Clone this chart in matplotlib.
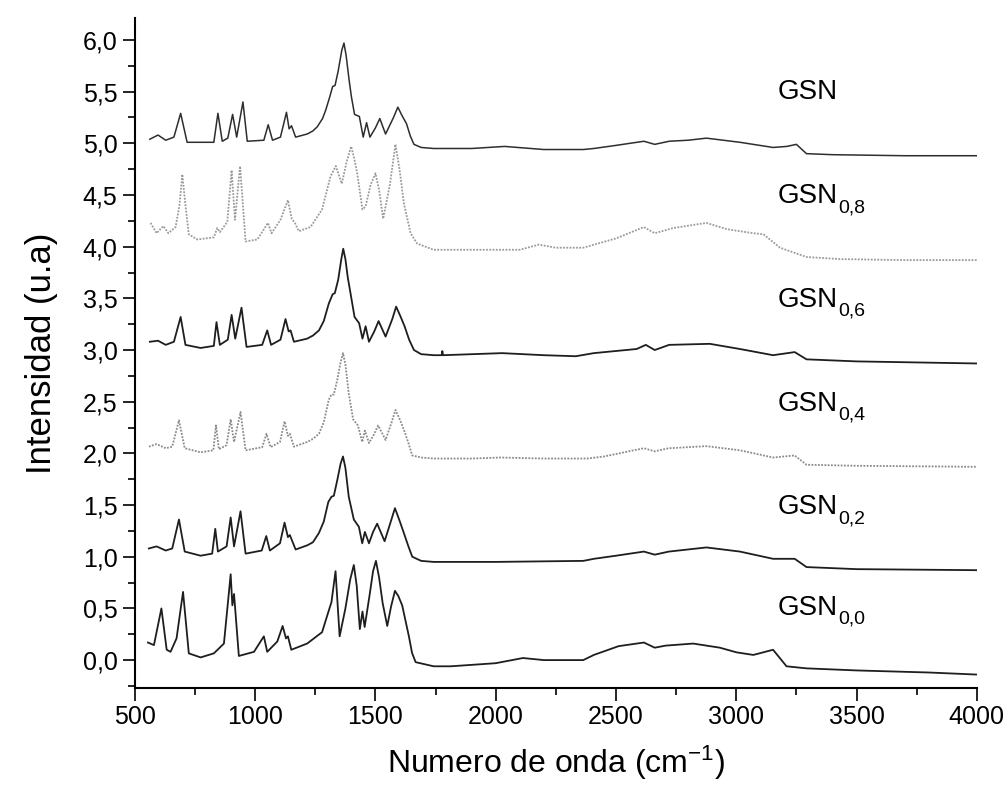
import matplotlib
matplotlib.use("Agg")
import matplotlib.pyplot as plt
from matplotlib.ticker import MultipleLocator, FuncFormatter

plt.rcParams["font.family"] = ["Liberation Sans", "DejaVu Sans"]
plt.rcParams["mathtext.default"] = "regular"

# spectra (wavenumber cm-1, stacked intensity)
gsn_x = [562, 596, 628, 662, 690, 717, 828, 845, 863, 886, 906, 923, 949, 967,
         1036, 1054, 1072, 1105, 1130, 1141, 1151, 1168, 1216, 1240, 1258, 1280,
         1293, 1310, 1322, 1332, 1345, 1360, 1369, 1378, 1390, 1400, 1413, 1433,
         1449, 1463, 1477, 1500, 1518, 1542, 1575, 1593, 1610, 1629, 1645, 1660,
         1690, 1742, 1900, 2037, 2200, 2364, 2408, 2500, 2616, 2661, 2721, 2800,
         2876, 3015, 3153, 3210, 3250, 3292, 3400, 3700, 4000]
gsn_y = [5.04, 5.08, 5.03, 5.06, 5.29, 5.01, 5.01, 5.29, 5.02, 5.05, 5.28, 5.06,
         5.40, 5.02, 5.03, 5.18, 5.03, 5.06, 5.30, 5.14, 5.17, 5.06, 5.09, 5.12,
         5.16, 5.24, 5.32, 5.45, 5.55, 5.56, 5.70, 5.90, 5.97, 5.85, 5.62, 5.45,
         5.28, 5.26, 5.06, 5.20, 5.06, 5.15, 5.24, 5.09, 5.25, 5.35, 5.27, 5.19,
         5.07, 4.99, 4.96, 4.95, 4.95, 4.97, 4.94, 4.94, 4.95, 4.98, 5.02, 4.99,
         5.02, 5.03, 5.05, 5.01, 4.96, 4.97, 4.99, 4.90, 4.89, 4.88, 4.88]

gsn08_x = [565, 590, 618, 639, 669, 685, 697, 710, 724, 759, 828, 842, 853, 884,
           902, 916, 937, 960, 1009, 1053, 1068, 1105, 1136, 1152, 1165, 1181,
           1230, 1278, 1313, 1335, 1360, 1380, 1399, 1412, 1424, 1446, 1459, 1480,
           1500, 1515, 1532, 1560, 1583, 1600, 1618, 1646, 1673, 1742, 1900, 2100,
           2179, 2250, 2364, 2500, 2616, 2661, 2737, 2876, 2960, 3071, 3113, 3182,
           3292, 3431, 3700, 4000]
gsn08_y = [4.23, 4.13, 4.20, 4.13, 4.19, 4.40, 4.70, 4.40, 4.12, 4.07, 4.09, 4.18,
           4.14, 4.24, 4.74, 4.26, 4.78, 4.05, 4.07, 4.23, 4.13, 4.26, 4.45, 4.27,
           4.23, 4.15, 4.19, 4.36, 4.68, 4.78, 4.61, 4.82, 4.97, 4.85, 4.71, 4.36,
           4.39, 4.60, 4.71, 4.55, 4.27, 4.60, 4.99, 4.75, 4.42, 4.13, 4.03, 3.97,
           3.97, 3.97, 4.02, 3.99, 3.99, 4.08, 4.19, 4.13, 4.18, 4.23, 4.17, 4.13,
           4.12, 3.99, 3.90, 3.88, 3.87, 3.87]

gsn06_x = [562, 596, 628, 662, 690, 710, 773, 828, 839, 853, 886, 902, 917, 943,
           964, 1029, 1050, 1066, 1105, 1126, 1139, 1147, 1161, 1216, 1240, 1265,
           1285, 1306, 1322, 1331, 1345, 1358, 1366, 1375, 1385, 1394, 1413, 1432,
           1446, 1459, 1473, 1495, 1513, 1542, 1570, 1586, 1605, 1621, 1640, 1660,
           1690, 1742, 1775, 1778, 1781, 2026, 2200, 2333, 2408, 2586, 2624, 2661,
           2721, 2890, 3015, 3153, 3243, 3292, 3500, 4000]
gsn06_y = [3.08, 3.09, 3.05, 3.08, 3.32, 3.05, 3.02, 3.04, 3.27, 3.05, 3.10, 3.34,
           3.11, 3.41, 3.03, 3.05, 3.19, 3.05, 3.10, 3.30, 3.18, 3.19, 3.08, 3.11,
           3.14, 3.19, 3.28, 3.45, 3.54, 3.55, 3.68, 3.88, 3.98, 3.88, 3.70, 3.58,
           3.32, 3.26, 3.11, 3.23, 3.08, 3.18, 3.28, 3.13, 3.30, 3.42, 3.32, 3.23,
           3.10, 3.00, 2.96, 2.95, 2.95, 2.99, 2.95, 2.97, 2.95, 2.94, 2.97, 3.01,
           3.05, 3.00, 3.05, 3.06, 3.01, 2.95, 2.98, 2.91, 2.89, 2.87]

gsn04_x = [558, 590, 628, 655, 683, 707, 773, 826, 837, 849, 881, 898, 912, 939,
           960, 1029, 1047, 1064, 1103, 1122, 1136, 1144, 1161, 1216, 1240, 1265,
           1285, 1306, 1317, 1327, 1342, 1355, 1365, 1375, 1389, 1407, 1427, 1445,
           1456, 1473, 1493, 1511, 1542, 1567, 1583, 1603, 1621, 1637, 1653, 1690,
           1742, 1900, 2020, 2200, 2380, 2450, 2616, 2661, 2720, 2876, 3015, 3153,
           3243, 3292, 3500, 4000]
gsn04_y = [2.065, 2.09, 2.05, 2.065, 2.32, 2.05, 2.01, 2.03, 2.27, 2.04, 2.08, 2.33,
           2.11, 2.40, 2.03, 2.06, 2.19, 2.06, 2.11, 2.31, 2.17, 2.19, 2.065, 2.11,
           2.14, 2.19, 2.30, 2.52, 2.57, 2.57, 2.72, 2.88, 2.97, 2.86, 2.58, 2.33,
           2.27, 2.11, 2.22, 2.10, 2.18, 2.27, 2.13, 2.30, 2.42, 2.32, 2.21, 2.10,
           1.98, 1.96, 1.95, 1.95, 1.96, 1.95, 1.95, 1.97, 2.05, 2.02, 2.05, 2.07,
           2.03, 1.96, 1.98, 1.89, 1.88, 1.87]

gsn02_x = [558, 590, 628, 655, 683, 707, 773, 821, 834, 845, 881, 898, 912, 939,
           960, 1027, 1046, 1061, 1103, 1122, 1136, 1144, 1168, 1216, 1240, 1265,
           1285, 1304, 1317, 1327, 1342, 1355, 1365, 1375, 1389, 1410, 1431, 1445,
           1456, 1473, 1490, 1507, 1538, 1565, 1581, 1600, 1618, 1637, 1653, 1690,
           1742, 2000, 2364, 2408, 2500, 2616, 2661, 2720, 2876, 3015, 3153, 3243,
           3292, 3500, 4000]
gsn02_y = [1.08, 1.10, 1.06, 1.08, 1.36, 1.05, 1.01, 1.03, 1.27, 1.05, 1.10, 1.38,
           1.10, 1.44, 1.03, 1.06, 1.20, 1.06, 1.13, 1.33, 1.19, 1.21, 1.07, 1.11,
           1.14, 1.23, 1.34, 1.53, 1.58, 1.59, 1.75, 1.90, 1.97, 1.86, 1.58, 1.36,
           1.29, 1.13, 1.24, 1.13, 1.24, 1.32, 1.15, 1.35, 1.47, 1.35, 1.23, 1.10,
           1.00, 0.96, 0.95, 0.95, 0.96, 0.98, 1.01, 1.05, 1.02, 1.05, 1.09, 1.05,
           0.98, 0.98, 0.90, 0.88, 0.87]

gsn00_x = [554, 579, 610, 632, 648, 673, 700, 724, 773, 828, 870, 898, 905, 912,
           932, 995, 1036, 1050, 1092, 1114, 1128, 1136, 1150, 1216, 1278, 1306,
           1317, 1334, 1351, 1375, 1395, 1410, 1422, 1435, 1446, 1455, 1475, 1490,
           1502, 1515, 1530, 1549, 1565, 1581, 1595, 1611, 1639, 1652, 1667, 1742,
           1813, 2000, 2113, 2200, 2364, 2408, 2511, 2616, 2661, 2706, 2821, 2932,
           3001, 3071, 3153, 3209, 3292, 3500, 3800, 4000]
gsn00_y = [0.17, 0.145, 0.50, 0.10, 0.08, 0.21, 0.66, 0.065, 0.026, 0.065, 0.16,
           0.83, 0.53, 0.64, 0.04, 0.08, 0.23, 0.08, 0.18, 0.33, 0.21, 0.23, 0.10,
           0.16, 0.27, 0.48, 0.56, 0.86, 0.23, 0.50, 0.78, 0.92, 0.72, 0.30, 0.47,
           0.32, 0.62, 0.86, 0.96, 0.80, 0.55, 0.33, 0.52, 0.67, 0.62, 0.53, 0.23,
           0.07, -0.02, -0.06, -0.06, -0.03, 0.02, 0.0, 0.0, 0.05, 0.135, 0.17, 0.12,
           0.14, 0.16, 0.12, 0.075, 0.05, 0.10, -0.06, -0.08, -0.10, -0.12, -0.14]

subs = ["", "0,8", "0,6", "0,4", "0,2", "0,0"]
label_y = [5.43, 4.42, 3.42, 2.41, 1.41, 0.44]
label_x = 3170

traces = [
    (gsn_x, gsn_y, "#2e2e2e", "-", 1.1),
    (gsn08_x, gsn08_y, "#9a9a9a", (0, (1, 0.8)), 1.3),
    (gsn06_x, gsn06_y, "#1e1e1e", "-", 1.3),
    (gsn04_x, gsn04_y, "#8a8a8a", (0, (1, 0.8)), 1.3),
    (gsn02_x, gsn02_y, "#1e1e1e", "-", 1.3),
    (gsn00_x, gsn00_y, "#1e1e1e", "-", 1.3),
]

fig = plt.figure(figsize=(10.07, 7.94), dpi=100)
ax = fig.add_axes([0.134, 0.1335, 0.836, 0.8435])

for xs, ys, col, ls, lw in traces:
    ax.plot(xs, ys, color=col, linestyle=ls, linewidth=lw)

for sub, ly in zip(subs, label_y):
    t = ax.text(label_x, ly, "GSN", fontsize=20, va="baseline", ha="left")
    if sub:
        ax.annotate(sub, xy=(1.0, 0.0), xycoords=t, xytext=(1, -5),
                    textcoords="offset points", fontsize=14, va="bottom", ha="left")

ax.set_xlim(500, 4000)
ax.set_ylim(-0.27, 6.21)
ax.xaxis.set_major_locator(MultipleLocator(500))
ax.xaxis.set_minor_locator(MultipleLocator(250))
ax.yaxis.set_major_locator(MultipleLocator(0.5))
ax.yaxis.set_minor_locator(MultipleLocator(0.25))
ax.yaxis.set_major_formatter(FuncFormatter(lambda v, p: f"{v:.1f}".replace(".", ",")))

for s in ["top", "right"]:
    ax.spines[s].set_visible(False)
for s in ["left", "bottom"]:
    ax.spines[s].set_linewidth(1.5)
ax.tick_params(which="major", direction="out", length=9, width=1.2, labelsize=18)
ax.tick_params(which="minor", direction="out", length=5, width=1.2)

ax.set_xlabel("Numero de onda (cm$^{-1}$)", fontsize=23, labelpad=10)
ax.set_ylabel("Intensidad (u.a)", fontsize=25, labelpad=18)

fig.savefig("out.png", dpi=100)
